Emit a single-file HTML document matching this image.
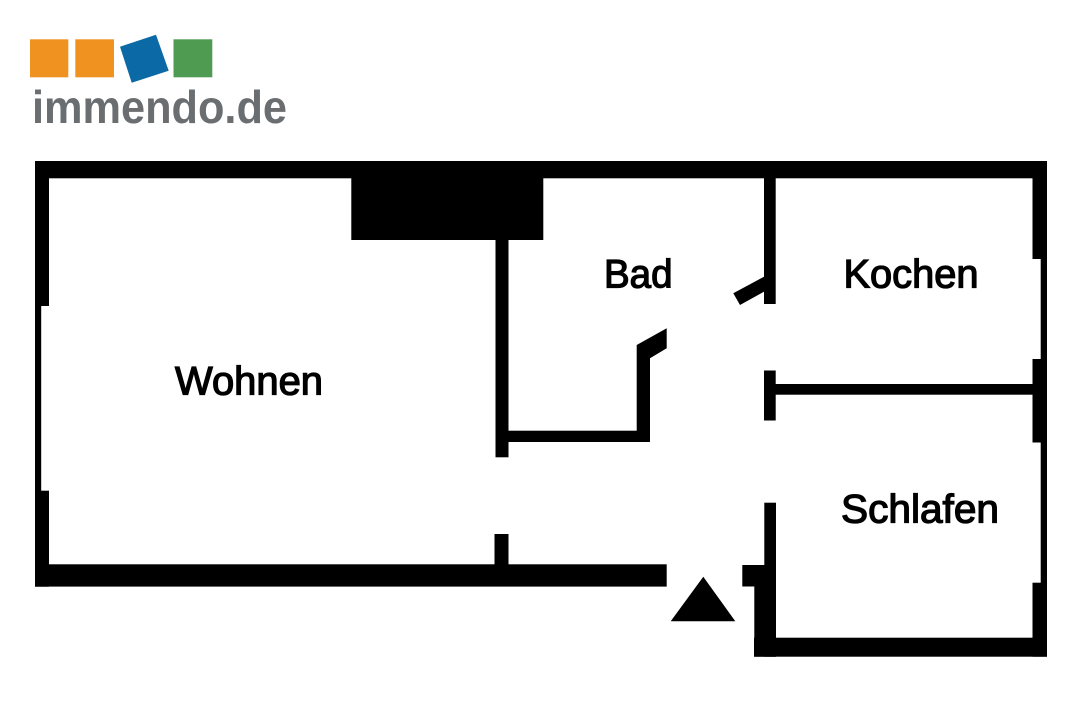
<!DOCTYPE html>
<html>
<head>
<meta charset="utf-8">
<style>
  html,body{margin:0;padding:0;background:#fff;}
  body{width:1080px;height:720px;overflow:hidden;}
  svg{display:block;}
</style>
</head>
<body>
<svg width="1080" height="720" viewBox="0 0 1080 720" xmlns="http://www.w3.org/2000/svg">
  <rect x="0" y="0" width="1080" height="720" fill="#ffffff"/>

  <!-- Logo -->
  <rect x="30" y="39.3" width="38.3" height="38" fill="#f0921f"/>
  <rect x="75.3" y="39.3" width="38.7" height="38" fill="#f0921f"/>
  <polygon points="120,46.7 156,34.7 168.7,70.7 131.7,82.7" fill="#0b6aa6"/>
  <rect x="173.5" y="39.3" width="38.8" height="38" fill="#4f9b52"/>
  <text x="32" y="123" font-family="Liberation Sans, Arial, sans-serif" font-weight="bold" font-size="46" fill="#6b6e70" textLength="255" lengthAdjust="spacingAndGlyphs">immendo.de</text>

  <!-- Walls -->
  <g fill="#000">
    <!-- top outer wall -->
    <rect x="35" y="161" width="1012" height="17.3"/>
    <!-- left wall -->
    <rect x="35" y="161" width="14" height="145"/>
    <rect x="35" y="305" width="6.2" height="187"/>
    <rect x="35" y="490.7" width="14" height="96"/>
    <!-- bottom wall -->
    <rect x="35" y="564.3" width="631.7" height="22.3"/>
    <!-- chimney -->
    <rect x="351.3" y="177" width="192" height="63"/>
    <!-- Bad left wall -->
    <rect x="495.5" y="239" width="13" height="218.3"/>
    <rect x="494.5" y="534" width="14" height="31"/>
    <!-- Bad bottom wall -->
    <rect x="495.5" y="430.7" width="154.5" height="11.3"/>
    <!-- Bad door wall + leaf -->
    <polygon points="636.7,345 666.7,328.3 666.7,348.3 650,358.3 650,442 636.7,442"/>
    <!-- Kochen/Bad wall + leaf -->
    <rect x="764" y="177" width="11.7" height="127"/>
    <polygon points="733.3,293.3 740,305 764,291.7 764,276.7"/>
    <!-- Kochen/Schlafen stub and wall -->
    <rect x="764" y="370.5" width="11.7" height="50"/>
    <rect x="775" y="384" width="258" height="10.7"/>
    <!-- right wall -->
    <rect x="1032.5" y="161" width="14.5" height="98"/>
    <rect x="1040.7" y="258" width="6.3" height="102"/>
    <rect x="1032.5" y="359" width="14.5" height="83.5"/>
    <rect x="1040.7" y="442" width="6.3" height="141.5"/>
    <rect x="1032.5" y="582.7" width="14.5" height="74"/>
    <!-- Schlafen bottom wall -->
    <rect x="754" y="637.7" width="293" height="19"/>
    <!-- Schlafen left wall -->
    <rect x="764.3" y="502.7" width="11.7" height="154"/>
    <rect x="742.3" y="565" width="33.7" height="21.5"/>
    <rect x="754.3" y="585" width="21.7" height="71.7"/>
    <!-- entrance triangle -->
    <polygon points="703.3,576.7 670.7,621.3 735.3,621.3"/>
  </g>

  <!-- Room labels -->
  <g font-family="Liberation Sans, Arial, sans-serif" font-size="40" fill="#000" stroke="#000" stroke-width="1.3">
    <text x="175" y="394.5" textLength="148" lengthAdjust="spacingAndGlyphs">Wohnen</text>
    <text x="604" y="287.5" textLength="68.5" lengthAdjust="spacingAndGlyphs">Bad</text>
    <text x="843.5" y="287.5" textLength="135" lengthAdjust="spacingAndGlyphs">Kochen</text>
    <text x="841" y="522.5" textLength="158" lengthAdjust="spacingAndGlyphs">Schlafen</text>
  </g>
</svg>
</body>
</html>
